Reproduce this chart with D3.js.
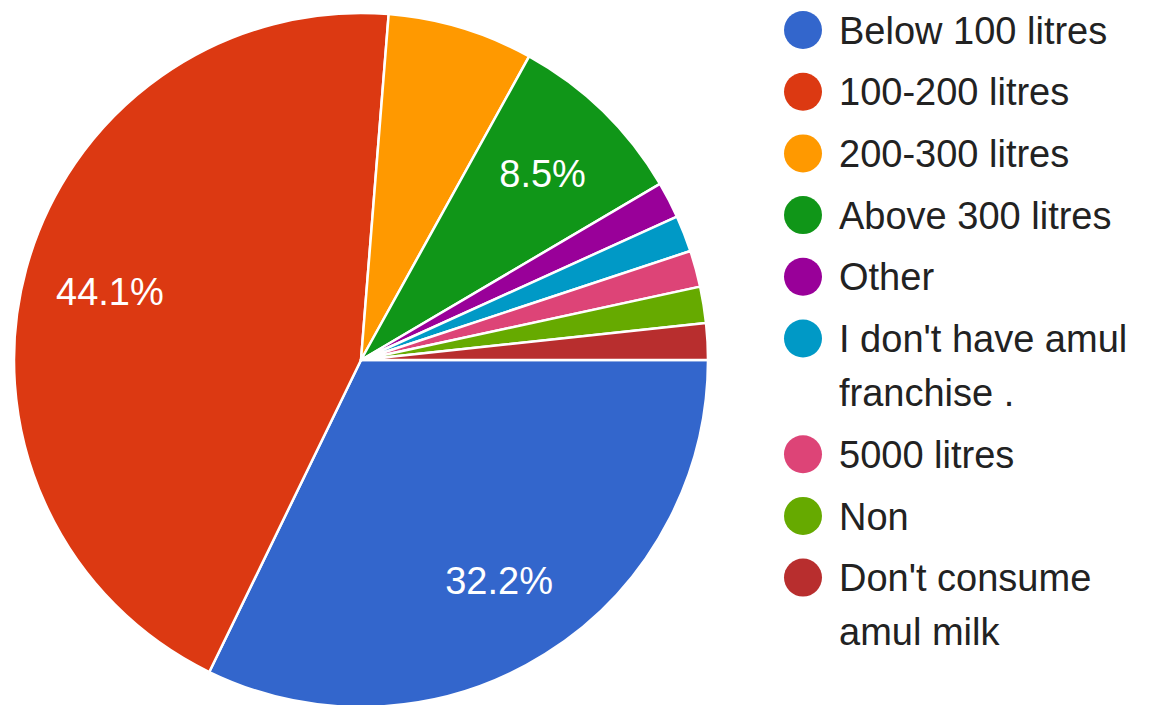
<!DOCTYPE html>
<html>
<head>
<meta charset="utf-8">
<script src="https://cdn.jsdelivr.net/npm/d3@7"></script>
<style>
  html, body { margin: 0; padding: 0; background: #fff; }
  svg { display: block; }
  text { font-family: "Liberation Sans", Arial, sans-serif; }
</style>
</head>
<body>
<svg id="chart" width="1154" height="705"></svg>
<script>
// Responses per answer (59 in total)
const categories = [
  "Below 100 litres",
  "100-200 litres",
  "200-300 litres",
  "Above 300 litres",
  "Other",
  "I don't have amul franchise .",
  "5000 litres",
  "Non",
  "Don't consume amul milk"
];
const counts = [19, 26, 4, 5, 1, 1, 1, 1, 1];
// Legend entries as they wrap on screen
const legendLines = [
  ["Below 100 litres"],
  ["100-200 litres"],
  ["200-300 litres"],
  ["Above 300 litres"],
  ["Other"],
  ["I don't have amul", "franchise ."],
  ["5000 litres"],
  ["Non"],
  ["Don't consume", "amul milk"]
];
const colors = ["#3366cc", "#dc3912", "#ff9900", "#109618", "#990099",
                "#0099c6", "#dd4477", "#66aa00", "#b82e2e"];

const svg = d3.select("#chart");
const cx = 361, cy = 360, radius = 347;

const color = d3.scaleOrdinal().domain(categories).range(colors);
const total = d3.sum(counts);
const data = categories.map((c, i) => ({ name: c, value: counts[i] }));

// Slices start at 3 o'clock and run clockwise
const pie = d3.pie()
  .sort(null)
  .value(d => d.value)
  .startAngle(Math.PI / 2)
  .endAngle(Math.PI / 2 + 2 * Math.PI);

const arc = d3.arc().innerRadius(0).outerRadius(radius);
const labelArc = d3.arc().innerRadius(radius * 0.75).outerRadius(radius * 0.75);

const g = svg.append("g").attr("transform", `translate(${cx},${cy})`);
const arcs = pie(data);

g.selectAll("path.slice")
  .data(arcs)
  .join("path")
  .attr("class", "slice")
  .attr("d", arc)
  .attr("fill", d => color(d.data.name))
  .attr("stroke", "#fff")
  .attr("stroke-width", 2.5)
  .attr("stroke-linejoin", "round");

// Percent labels only on slices that are wide enough
g.selectAll("text.pct")
  .data(arcs.filter(d => d.value / total >= 0.075))
  .join("text")
  .attr("class", "pct")
  .attr("transform", d => `translate(${labelArc.centroid(d)})`)
  .attr("text-anchor", "middle")
  .attr("dy", "0.36em")
  .attr("fill", "#fff")
  .attr("font-size", 38)
  .text(d => (d.value / total * 100).toFixed(1) + "%");

// Legend
const legend = svg.append("g").attr("transform", "translate(0,0)");
const rowStep = 61.7, lineStep = 54;
let y = 30;
legendLines.forEach((lines, i) => {
  const row = legend.append("g").attr("transform", `translate(0,${y})`);
  row.append("circle")
    .attr("cx", 803)
    .attr("cy", 0)
    .attr("r", 19)
    .attr("fill", colors[i]);
  lines.forEach((ln, j) => {
    row.append("text")
      .attr("x", 839)
      .attr("y", j * lineStep)
      .attr("dy", "0.36em")
      .attr("font-size", 38)
      .attr("fill", "#222")
      .text(ln);
  });
  y += rowStep + (lines.length - 1) * lineStep;
});
</script>
</body>
</html>
